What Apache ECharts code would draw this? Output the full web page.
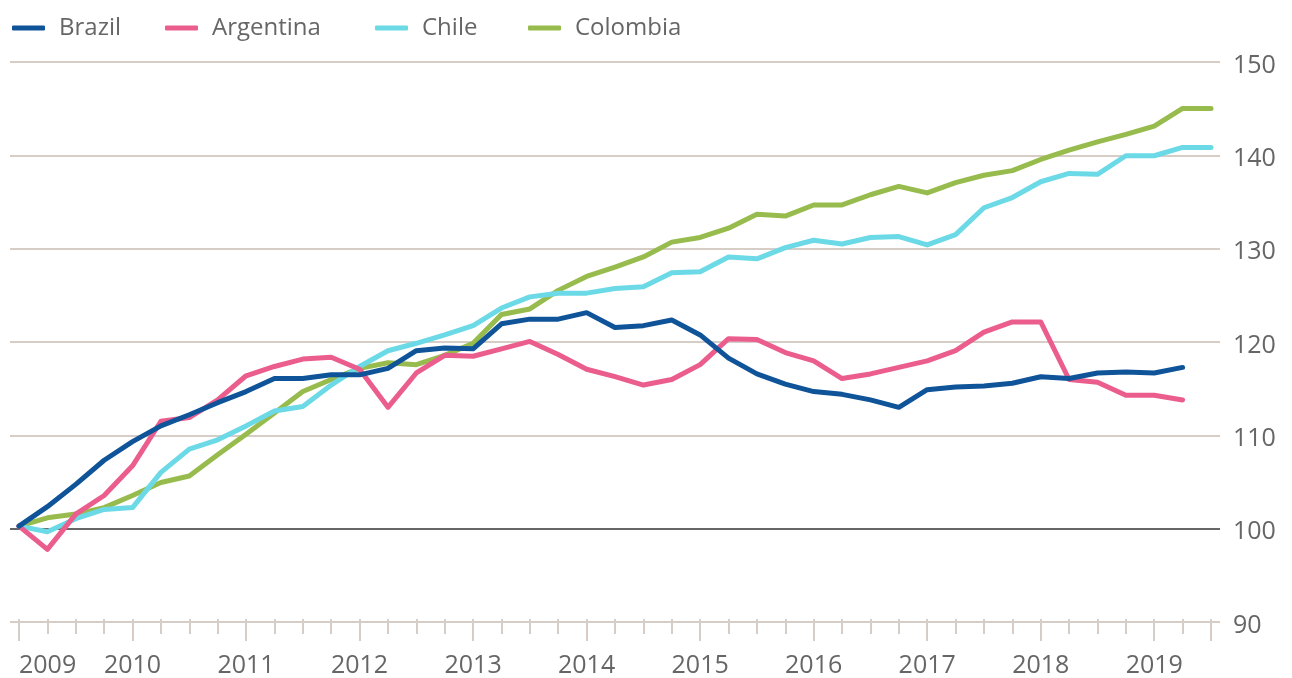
<!DOCTYPE html>
<html><head><meta charset="utf-8">
<script src="https://cdn.jsdelivr.net/npm/echarts@6/dist/echarts.min.js"></script>
<style>html,body{margin:0;padding:0;background:#fff}#c{width:1292px;height:678px}</style>
</head><body><div id="c"></div>
<script>
// ---- data ----
const quarters = [
 '2009 Q1','2009 Q2','2009 Q3','2009 Q4',
 '2010 Q1','2010 Q2','2010 Q3','2010 Q4',
 '2011 Q1','2011 Q2','2011 Q3','2011 Q4',
 '2012 Q1','2012 Q2','2012 Q3','2012 Q4',
 '2013 Q1','2013 Q2','2013 Q3','2013 Q4',
 '2014 Q1','2014 Q2','2014 Q3','2014 Q4',
 '2015 Q1','2015 Q2','2015 Q3','2015 Q4',
 '2016 Q1','2016 Q2','2016 Q3','2016 Q4',
 '2017 Q1','2017 Q2','2017 Q3','2017 Q4',
 '2018 Q1','2018 Q2','2018 Q3','2018 Q4',
 '2019 Q1','2019 Q2','2019 Q3'
];
const seriesNames = ['Brazil','Argentina','Chile','Colombia'];
const brazil = [100,102.1,104.5,107.1,109.1,110.8,112.0,113.3,114.5,115.9,115.9,116.3,116.3,117.0,118.9,119.2,119.1,121.8,122.3,122.3,123.0,121.4,121.6,122.2,120.6,118.1,116.4,115.3,114.5,114.2,113.6,112.8,114.7,115.0,115.1,115.4,116.1,115.9,116.5,116.6,116.5,117.1,null];
const argentina = [100,97.5,101.3,103.3,106.5,111.3,111.7,113.6,116.2,117.2,118.0,118.2,116.9,112.8,116.5,118.4,118.3,119.1,119.9,118.5,116.9,116.1,115.2,115.8,117.4,120.2,120.1,118.7,117.8,115.9,116.4,117.1,117.8,118.9,120.9,122.0,122.0,115.8,115.5,114.1,114.1,113.6,null];
const chile = [100,99.4,100.8,101.8,102.0,105.8,108.3,109.3,110.8,112.4,112.9,115.2,117.2,118.9,119.7,120.6,121.6,123.5,124.7,125.1,125.1,125.6,125.8,127.3,127.4,129.0,128.8,130.0,130.8,130.4,131.1,131.2,130.3,131.4,134.3,135.4,137.1,138.0,137.9,139.9,139.9,140.8,140.8];
const colombia = [100,100.9,101.3,102.0,103.3,104.7,105.4,107.7,109.9,112.2,114.5,115.8,117.0,117.6,117.4,118.4,119.7,122.8,123.4,125.4,126.9,127.9,129.0,130.6,131.1,132.1,133.6,133.4,134.6,134.6,135.7,136.6,135.9,137.0,137.8,138.3,139.5,140.5,141.4,142.2,143.1,145.0,145.0];
const yTicks = [90,100,110,120,130,140,150];

// ---- style ----
const FONT = '"Open Sans", sans-serif';
const TEXT = '#666666';
const GRID = '#d6cdc6';
const BASE = '#666666';
const colors = {Brazil:'#0f5499', Argentina:'#ea5d8d', Chile:'#6cd9e6', Colombia:'#97bb4d'};
const legendLeft = [12, 165, 375, 528];
const valuesByName = {Brazil:brazil, Argentina:argentina, Chile:chile, Colombia:colombia};
const drawOrder = ['Colombia','Chile','Argentina','Brazil'];

const chart = echarts.init(document.getElementById('c'), null, {renderer:'canvas'});
const yMin = yTicks[0], yMax = yTicks[yTicks.length-1], yStep = yTicks[1]-yTicks[0];
const splitColors = yTicks.map(v => v === 100 ? BASE : GRID);

const option = {
  animation: false,
  backgroundColor: '#ffffff',
  textStyle: {fontFamily: FONT},
  legend: seriesNames.map((n, i) => ({
    data: [n], left: legendLeft[i], top: 16, padding: 0,
    icon: 'roundRect', itemWidth: 33, itemHeight: 5, itemGap: 0,
    selectedMode: false,
    textStyle: {fontSize: 24, color: TEXT, fontFamily: FONT, padding: [0,0,0,9]}
  })),
  grid: [
    {left: 10, right: 72, top: 62, bottom: 56},
    {left: 19, right: 81, top: 62, bottom: 56}
  ],
  xAxis: [
    {gridIndex: 0, type: 'value', min: 0, max: 1, show: false},
    {gridIndex: 1, type: 'category', data: quarters, boundaryGap: false, position: 'bottom', offset: 0,
     axisLine: {show: false},
     axisTick: {show: true, interval: 0, length: 15, lineStyle: {color: GRID, width: 2}},
     axisLabel: {interval: 3, formatter: v => v.slice(0,4), margin: 34, fontSize: 25, color: TEXT, fontFamily: FONT, alignMinLabel: 'left'},
     splitLine: {show: false}},
    {gridIndex: 1, type: 'category', data: quarters, boundaryGap: false, position: 'bottom', offset: 0,
     axisLine: {show: false},
     axisTick: {show: true, interval: (i) => i % 4 === 0 || i === quarters.length - 1, length: 22, lineStyle: {color: GRID, width: 2}},
     axisLabel: {show: false}, splitLine: {show: false}}
  ],
  yAxis: [
    {gridIndex: 0, type: 'value', min: yMin, max: yMax, interval: yStep, position: 'right',
     axisLine: {show: false}, axisTick: {show: false},
     axisLabel: {margin: 13, formatter: '{v|{value}}',
       rich: {v: {fontSize: 25, color: TEXT, fontFamily: FONT, padding: [7,0,0,0]}}},
     splitLine: {show: true, lineStyle: {color: splitColors, width: 2}}},
    {gridIndex: 1, type: 'value', min: yMin, max: yMax, interval: yStep, show: false}
  ],
  series: drawOrder.map(n => ({
    name: n, type: 'line', xAxisIndex: 1, yAxisIndex: 1,
    data: valuesByName[n], symbol: 'none', showSymbol: false, connectNulls: false,
    color: colors[n],
    lineStyle: {width: 5, color: colors[n], cap: 'round', join: 'round'},
    emphasis: {disabled: true}
  }))
};
chart.setOption(option);
</script>
</body></html>
